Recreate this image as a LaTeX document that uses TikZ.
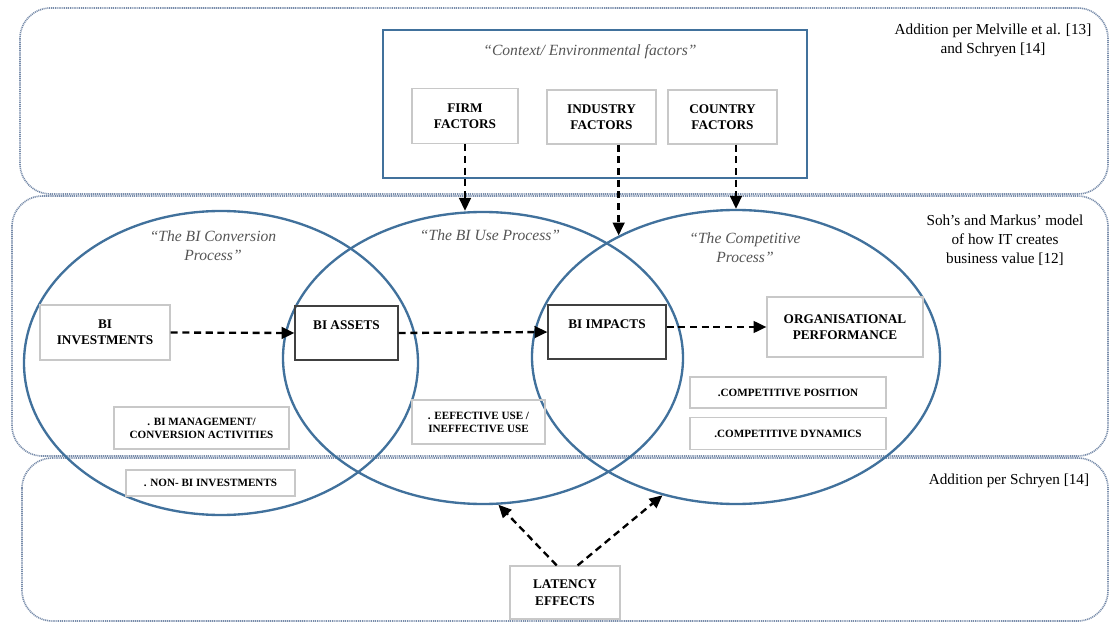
\documentclass[tikz,border=0pt]{standalone}
\usepackage{fontspec}
\setmainfont{Liberation Serif}
\usepackage{tikz}
\usetikzlibrary{positioning, shapes.geometric, arrows.meta}

\definecolor{ringblue}{RGB}{65,113,156}
\definecolor{dotblue}{RGB}{120,140,170}
\definecolor{softgray}{RGB}{200,200,200}
\definecolor{labelgray}{RGB}{85,85,85}

\begin{document}
\begin{tikzpicture}[x=0.3mm, y=-0.3mm,
			band/.style={draw=dotblue, line width=1.4pt, dash pattern=on 0.9pt off 0.7pt, rounded corners=26pt},
			ring/.style={ellipse, draw=ringblue, line width=2pt, inner sep=0pt},
			ctxbox/.style={rectangle, draw=ringblue, line width=2.3pt, inner sep=0pt},
			factor/.style={rectangle, draw=softgray, line width=1pt, align=center, inner sep=0pt, font=\fontsize{11.3}{14}\selectfont\bfseries},
			keybox/.style={factor, draw=black!75},
			itembox/.style={factor, font=\fontsize{9.5}{11}\selectfont\bfseries},
			procname/.style={align=center, text=labelgray, font=\fontsize{13.3}{16.5}\selectfont\itshape},
			note/.style={align=center, font=\fontsize{13}{16}\selectfont},
			flow/.style={-{Triangle[length=11pt, width=10pt]}, line width=2pt, dash pattern=on 6pt off 4pt}
			]
			\useasboundingbox (0,0) rectangle (1110,623);
			
			% the three bands
			\draw[band] (20,8) rectangle (1108,194);
			\draw[band] (12,196) rectangle (1108,456);
			\draw[band] (22,458) rectangle (1108,621);
			
			\node[note] (melville) at (993,40) {Addition per Melville et al. [13]\\ and Schryen [14]};
			\node[note] (soh) at (1005,240) {Soh’s and Markus’ model\\ of how IT creates\\ business value [12]};
			\node[note] (schryen) at (1009,481) {Addition per Schryen [14]};
			
			% context factors
			\node[ctxbox, minimum width=127.2mm, minimum height=44.4mm] (ctx) at (595,104) {};
			\node[procname] (ctxtitle) at (590,52) {“Context/ Environmental factors”};
			\node[factor, minimum width=31.8mm, minimum height=16.5mm] (firm) at (465,116) {FIRM\\ FACTORS};
			\node[factor, minimum width=32.7mm, minimum height=16.2mm] (industry) at (601.5,117) {INDUSTRY\\ FACTORS};
			\node[factor, minimum width=32.7mm, minimum height=16.2mm] (country) at (722.5,117) {COUNTRY\\ FACTORS};
			
			% processes
			\node[ring, minimum width=118.2mm, minimum height=91.2mm] (convproc) at (221,363) {};
			\node[ring, minimum width=120mm, minimum height=87.6mm] (useproc) at (483,358) {};
			\node[ring, minimum width=122.4mm, minimum height=88.2mm] (compproc) at (736,357) {};
			
			\node[procname] (convtitle) at (213,246) {“The BI Conversion\\ Process”};
			\node[procname] (usetitle) at (490,235) {“The BI Use Process”};
			\node[procname] (comptitle) at (745,248) {“The Competitive\\ Process”};
			
			\node[factor, minimum width=39mm, minimum height=16.5mm] (invest) at (105,332.5) {BI\\ INVESTMENTS};
			\node[keybox, minimum width=30.9mm, minimum height=16.2mm] (assets) at (346.5,333) {BI ASSETS\\ \phantom{X}};
			\node[keybox, minimum width=35.4mm, minimum height=16.2mm] (impacts) at (607,332) {BI IMPACTS\\ \phantom{X}};
			\node[factor, minimum width=46.8mm, minimum height=18mm] (orgperf) at (845,327) {ORGANISATIONAL\\ PERFORMANCE};
			
			\node[itembox, minimum width=52.5mm, minimum height=12.6mm] (mgmt) at (201.5,428) {. BI MANAGEMENT/\\ CONVERSION ACTIVITIES};
			\node[itembox, minimum width=50.7mm, minimum height=7.8mm] (nonbi) at (210.5,483) {. NON- BI INVESTMENTS};
			\node[itembox, minimum width=39.9mm, minimum height=13.2mm] (effuse) at (478.5,422) {. EEFECTIVE USE /\\ INEFFECTIVE USE};
			\node[itembox, minimum width=58.8mm, minimum height=9.3mm] (cpos) at (788,392.5) {.COMPETITIVE POSITION};
			\node[itembox, minimum width=58.8mm, minimum height=9.6mm] (cdyn) [below=2.6mm of cpos] {.COMPETITIVE DYNAMICS};
			
			\node[factor, minimum width=33mm, minimum height=15.9mm] (latency) at (565,592.5) {LATENCY\\ EFFECTS};
			
			% connectors
			\draw[flow] (firm.south) -- (firm.south |- useproc.north);
			\draw[flow] (industry.south -| compproc.134) -- (compproc.134);
			\draw[flow] (country.south -| compproc.north) -- (compproc.north);
			\draw[flow] (invest.east) -- (assets.west);
			\draw[flow] (assets.east) -- (impacts.west);
			\draw[flow] (impacts.east |- orgperf.west) -- (orgperf.west);
			\draw[flow] (latency.107) -- (useproc.-84);
			\draw[flow] (latency.65) -- (compproc.-118);
		\end{tikzpicture}
\end{document}
